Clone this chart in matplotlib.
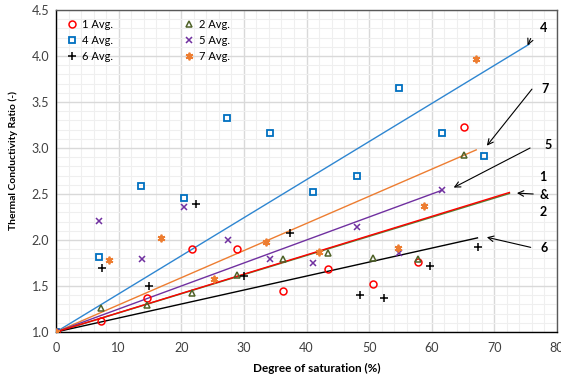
import matplotlib
matplotlib.use("Agg")
import matplotlib.pyplot as plt
import numpy as np
from matplotlib.ticker import MultipleLocator, FormatStrFormatter

plt.rcParams['font.family'] = ['Lato', 'DejaVu Sans']

# ---- data ----
s1_x = [0, 7.2, 14.5, 21.7, 28.9, 36.2, 43.4, 50.6, 57.8, 65.1]
s1_y = [1.0, 1.115, 1.37, 1.905, 1.90, 1.445, 1.68, 1.52, 1.76, 3.225]

s2_x = [0, 7.2, 14.5, 21.7, 28.9, 36.2, 43.4, 50.6, 57.8, 65.1]
s2_y = [1.0, 1.26, 1.29, 1.42, 1.62, 1.79, 1.86, 1.80, 1.79, 2.92]

s4_x = [0, 6.9, 13.6, 20.5, 27.3, 34.1, 41.1, 48.0, 54.7, 61.6, 68.4]
s4_y = [1.0, 1.81, 2.59, 2.46, 3.33, 3.16, 2.52, 2.70, 3.65, 3.16, 2.91]

s5_x = [0, 6.9, 13.7, 20.5, 27.4, 34.1, 41.1, 48.0, 54.7, 61.6]
s5_y = [1.0, 2.21, 1.79, 2.355, 2.00, 1.79, 1.75, 2.145, 1.86, 2.54]

s6_x = [0, 7.4, 14.9, 22.4, 30.0, 37.3, 48.6, 52.4, 59.8, 67.4]
s6_y = [1.0, 1.70, 1.50, 2.39, 1.61, 2.08, 1.40, 1.37, 1.72, 1.92]

s7_x = [0, 8.4, 16.8, 25.2, 33.6, 42.0, 54.6, 58.8, 67.1]
s7_y = [1.0, 1.78, 2.025, 1.576, 1.975, 1.866, 1.91, 2.37, 3.97]

labels = ["1 Avg.", "2 Avg.", "4 Avg.", "5 Avg.", "6 Avg.", "7 Avg."]

# trend lines through (0, 1): slope and end of line (degree of saturation)
trend_intercept = 1.0
trend_slope = {"1": 0.02095, "2": 0.02080, "4": 0.0414, "5": 0.0250, "6": 0.0152, "7": 0.0295}
trend_end = {"1": 72.4, "2": 72.4, "4": 75.6, "5": 61.6, "6": 67.3, "7": 67.1}

# annotation labels: (text, text position, arrow start, arrow end)
ann_text = ["4", "7", "5", "1", "&", "2", "6"]
ann_pos = [(77.8, 4.30), (78.1, 3.64), (78.6, 3.03), (77.8, 2.69), (78.0, 2.49), (77.8, 2.30), (78.0, 1.91)]
arrows = [((75.8, 4.19), (75.3, 4.115)),
          ((76.0, 3.64), (68.8, 3.025)),
          ((75.7, 3.00), (63.5, 2.57)),
          ((76.2, 2.50), (73.6, 2.51)),
          ((75.8, 1.92), (68.8, 2.03))]

# ---- styles ----
c_red = '#FF0000'
c_green = '#4F6228'
c_blue = '#0070C0'
c_purple = '#7030A0'
c_black = '#000000'
c_orange = '#ED7D31'
c_blue_line = '#2E86D1'

fig = plt.figure(figsize=(5.61, 3.75), dpi=100)
ax = fig.add_axes([56/561, 1-332/375, (557-56)/561, (332-10)/375])

# trend lines
def trend(key, color, lw=1.0, z=2):
    xs = np.array([0, trend_end[key]])
    ax.plot(xs, trend_intercept + trend_slope[key]*xs, color=color, lw=lw, zorder=z)

trend("4", c_blue_line)
trend("7", c_orange)
trend("5", c_purple)
trend("2", '#548235', lw=1.1)
trend("1", c_red, lw=1.0, z=2.1)
trend("6", c_black)

ms = 5
mew = 1.1
h1, = ax.plot(s1_x, s1_y, 'o', mfc='none', mec=c_red, ms=ms, mew=mew, label=labels[0], zorder=3)
h2, = ax.plot(s2_x, s2_y, '^', mfc='none', mec=c_green, ms=ms, mew=mew, label=labels[1], zorder=3)
h4, = ax.plot(s4_x, s4_y, 's', mfc='none', mec=c_blue, ms=ms, mew=1.3, label=labels[2], zorder=3)
h5, = ax.plot(s5_x, s5_y, 'x', color=c_purple, ms=ms, mew=mew, label=labels[3], zorder=3)
h6, = ax.plot(s6_x, s6_y, '+', color=c_black, ms=ms+0.5, mew=mew, label=labels[4], zorder=3)
h7, = ax.plot(s7_x, s7_y, marker=(6, 2, 0), ls='none', color=c_orange, mec=c_orange, ms=ms+0.5, mew=1.3, label=labels[5], zorder=3)

ax.set_xlim(0, 80)
ax.set_ylim(1.0, 4.5)
ax.xaxis.set_major_locator(MultipleLocator(10))
ax.xaxis.set_minor_locator(MultipleLocator(2))
ax.yaxis.set_major_locator(MultipleLocator(0.5))
ax.yaxis.set_minor_locator(MultipleLocator(0.1))
ax.yaxis.set_major_formatter(FormatStrFormatter('%.1f'))
ax.grid(which='major', color='#D9D9D9', lw=1.0, zorder=0)
ax.grid(which='minor', color='#EFEFEF', lw=0.8, zorder=0)
ax.set_axisbelow(True)
ax.tick_params(which='both', length=0, labelsize=9, colors='#404040', pad=5)
ax.tick_params(axis='x', pad=7)

for side in ['left', 'bottom']:
    ax.spines[side].set_color('black')
    ax.spines[side].set_linewidth(1.0)
for side in ['top', 'right']:
    ax.spines[side].set_color('#595959')
    ax.spines[side].set_linewidth(1.0)

ax.set_xlabel("Degree of saturation (%)", fontsize=8.5, fontweight='bold')
ax.set_ylabel("Thermal Conductivity Ratio (-)", fontsize=7.5, fontweight='bold')
ax.xaxis.set_label_coords(0.52, -0.095)
ax.yaxis.set_label_coords(-0.076, 0.534)

leg = ax.legend(handles=[h1, h4, h6, h2, h5, h7], ncol=2, loc='upper left',
                bbox_to_anchor=(0.0, 1.0), frameon=False, fontsize=8,
                handletextpad=0.3, columnspacing=6.3, labelspacing=0.45,
                handlelength=1.2, borderaxespad=0.4)

for t, p in zip(ann_text, ann_pos):
    ax.text(p[0], p[1], t, fontsize=9, fontweight='bold', ha='center', va='center')
for (start, end) in arrows:
    ax.annotate("", xy=end, xytext=start,
                arrowprops=dict(arrowstyle='->', color='black', lw=0.8, shrinkA=0, shrinkB=0))

fig.savefig("out.png", dpi=100)
